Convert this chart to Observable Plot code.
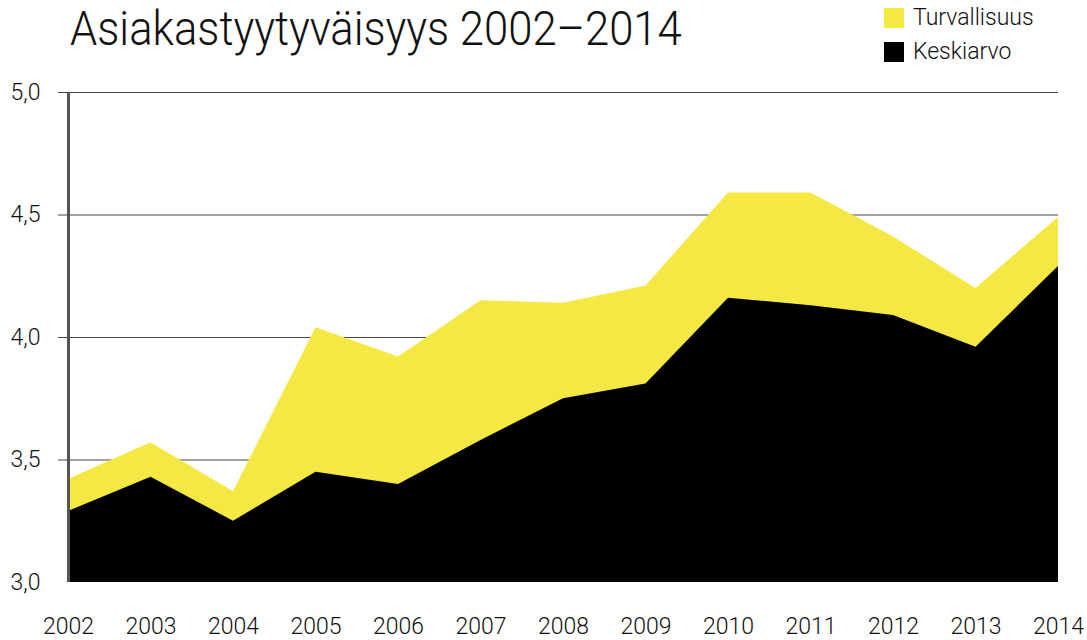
<!DOCTYPE html>
<html>
<head>
<meta charset="utf-8">
<script src="https://cdn.jsdelivr.net/npm/d3@7"></script>
<script src="https://cdn.jsdelivr.net/npm/@observablehq/plot@0.6"></script>
<style>
  body { margin: 0; background: #fff; font-family: Roboto, sans-serif; }
  #wrap { width: 1087px; height: 640px; position: relative; overflow: hidden; }
  #header { position: relative; height: 80px; }
  #title { position: absolute; left: 70px; top: 4px; font-size: 49px; line-height: 1; font-weight: 300; color: #111; white-space: nowrap; transform: scaleX(0.89); transform-origin: left top; }
  .leg { position: absolute; left: 884px; font-size: 23px; line-height: 1.2; font-weight: 300; color: #111; display: flex; align-items: center; white-space: nowrap; }
  .sw { width: 20px; height: 20px; margin-right: 9px; }
  #chart svg { display: block; }
</style>
</head>
<body>
<div id="wrap">
  <div id="header">
    <div id="title">Asiakastyytyväisyys 2002–2014</div>
    <div class="leg" style="top:4px"><div class="sw" style="background:#F5E844"></div>Turvallisuus</div>
    <div class="leg" style="top:38px"><div class="sw" style="background:#000"></div>Keskiarvo</div>
  </div>
  <div id="chart"></div>
</div>
<script>
const years = [2002, 2003, 2004, 2005, 2006, 2007, 2008, 2009, 2010, 2011, 2012, 2013, 2014];
const turvallisuus = [3.42, 3.57, 3.37, 4.04, 3.92, 4.15, 4.14, 4.21, 4.59, 4.59, 4.41, 4.20, 4.49];
const keskiarvo = [3.29, 3.43, 3.25, 3.45, 3.40, 3.58, 3.75, 3.81, 4.16, 4.13, 4.09, 3.96, 4.29];
const yTicks = [3, 3.5, 4, 4.5, 5];
const gridValues = [3.5, 4, 4.5, 5];

const data = years.map((y, i) => ({year: y, turv: turvallisuus[i], kesk: keskiarvo[i]}));
const fmt = d => d.toFixed(1).replace(".", ",");

const chart = Plot.plot({
  width: 1087,
  height: 560,
  marginLeft: 68,
  marginRight: 29,
  marginTop: 12,
  marginBottom: 58,
  style: {fontFamily: "Roboto, sans-serif", fontSize: "22px", fontWeight: 300, color: "#111", background: "#fff"},
  x: {domain: [2002, 2014]},
  y: {domain: [3, 5]},
  marks: [
    Plot.ruleY(gridValues, {stroke: "#444", strokeWidth: 1.2}),
    Plot.areaY(data, {x: "year", y1: 3, y2: "turv", fill: "#F5E844"}),
    Plot.areaY(data, {x: "year", y1: 3, y2: "kesk", fill: "#000"}),
    Plot.ruleX([2002], {stroke: "#555", strokeWidth: 3, y1: 3, y2: 5}),
    Plot.axisY({ticks: gridValues, tickFormat: null, text: null, tickSize: 10, stroke: "#444", label: null}),
    Plot.axisY({ticks: yTicks, tickFormat: fmt, tickSize: 0, tickPadding: 28, label: null, fontSize: 23}),
    Plot.axisX({ticks: years, tickFormat: d => String(d), tickSize: 0, tickPadding: 35, label: null, fontSize: 23})
  ]
});
document.getElementById("chart").appendChild(chart);
</script>
</body>
</html>
